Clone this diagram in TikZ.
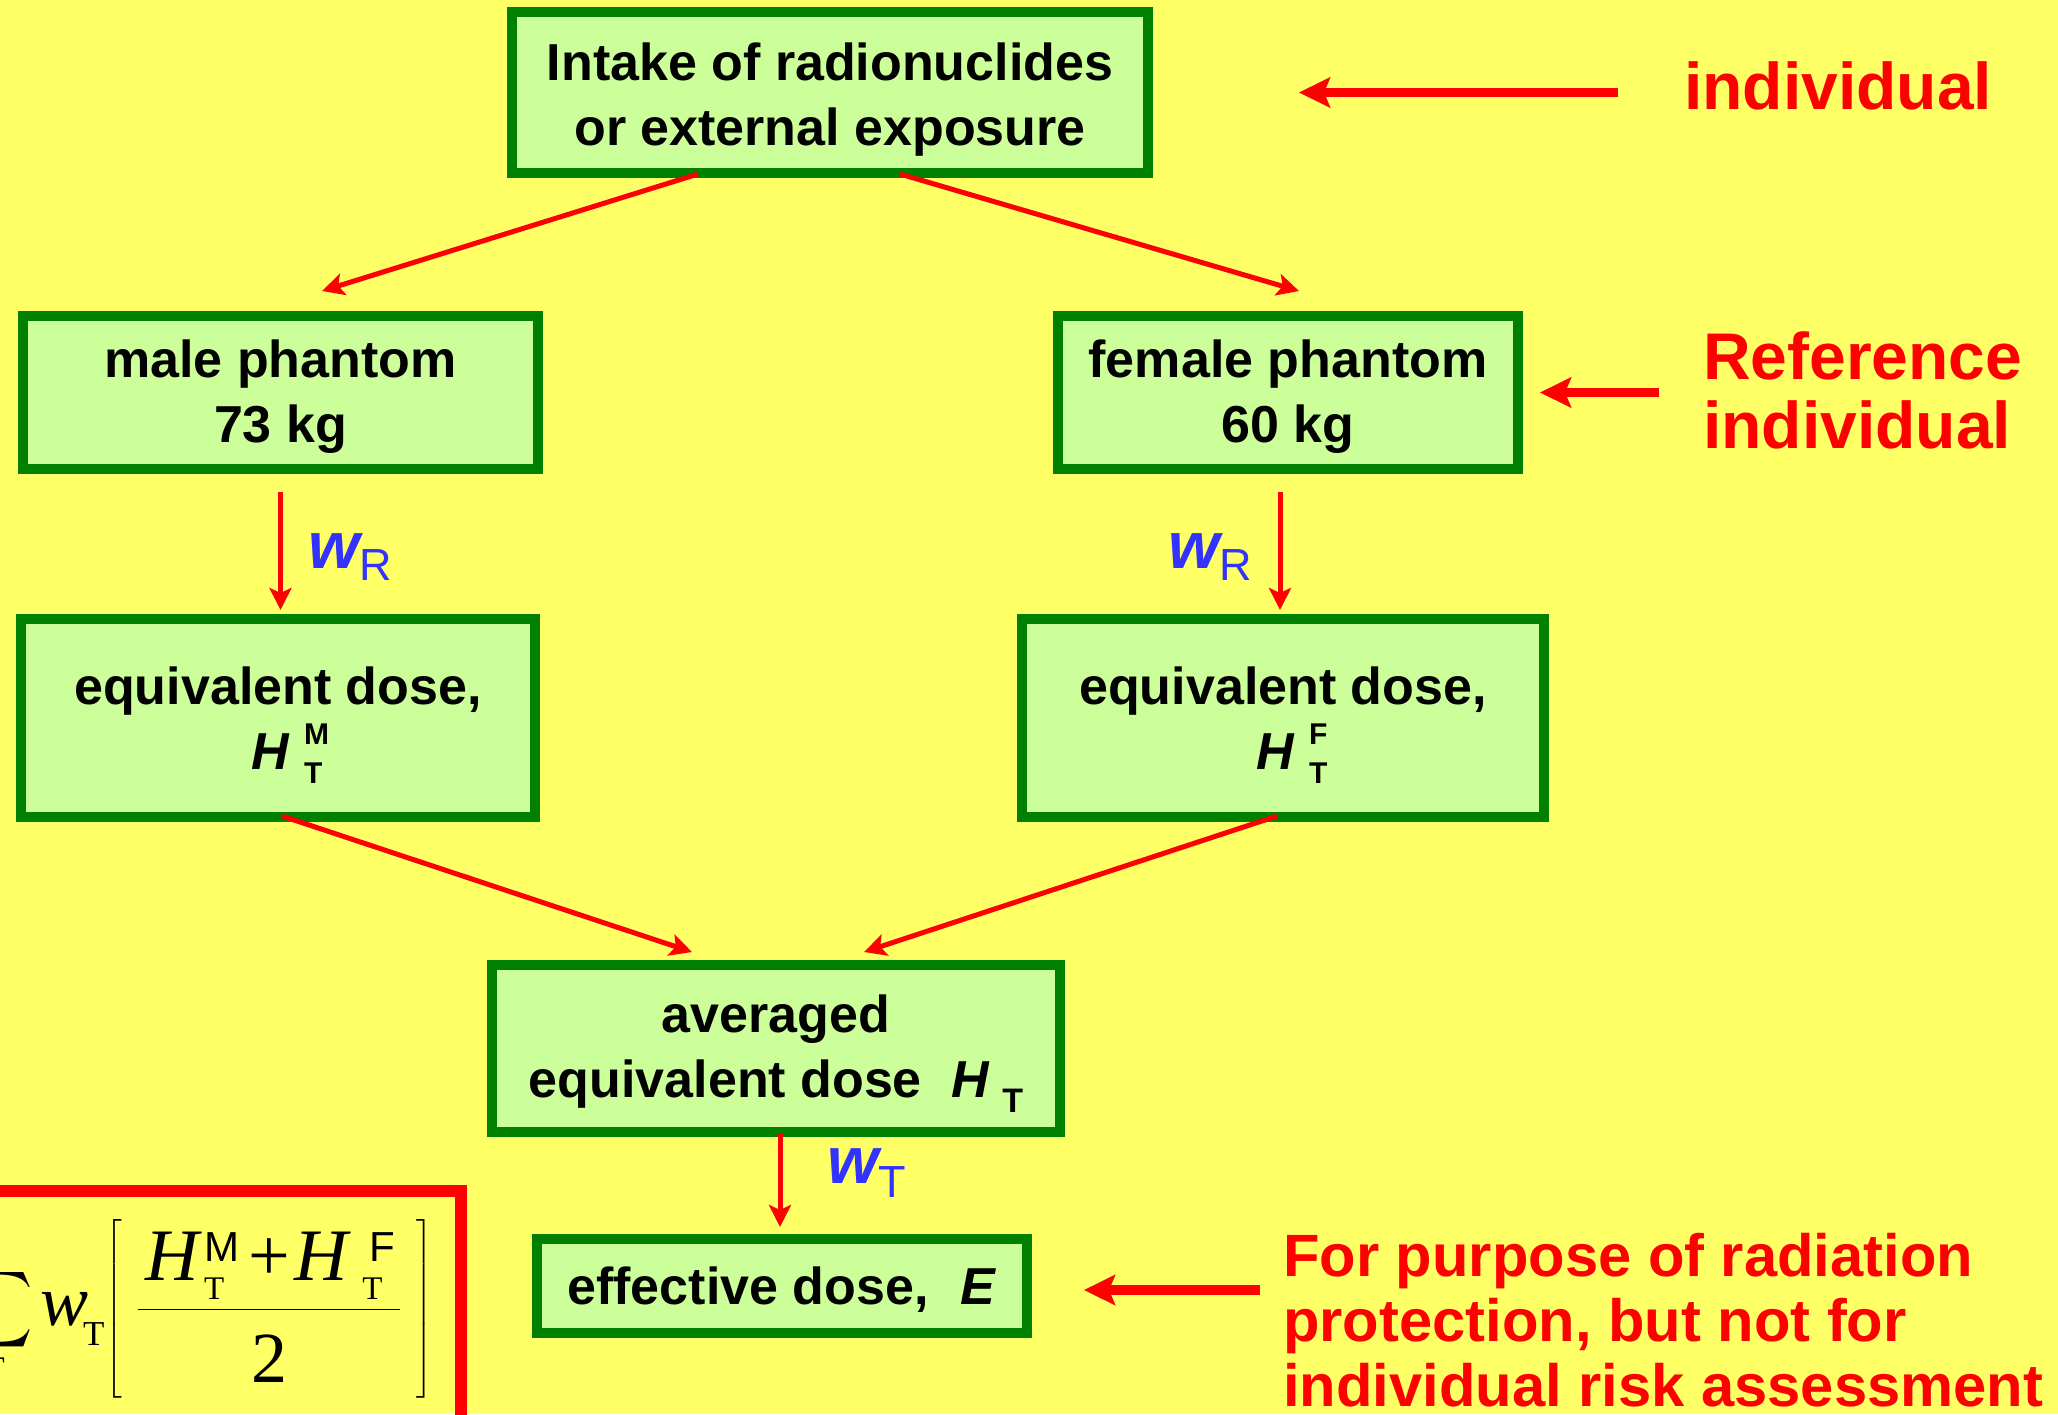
\RequirePackage{fix-cm}
\documentclass[tikz,border=0pt]{standalone}
\usepackage{amsmath}
\usepackage{graphicx}
\usepackage[no-math]{fontspec}
\setmainfont{Liberation Sans}
\newfontfamily\fserif{Liberation Serif}
\usetikzlibrary{arrows.meta,calc}
\definecolor{bgyellow}{RGB}{255,255,102}
\definecolor{boxfill}{RGB}{204,255,153}
\definecolor{boxgreen}{RGB}{0,128,0}
\definecolor{labelblue}{RGB}{51,51,255}
\definecolor{arrowred}{RGB}{255,0,0}
\newcommand{\subsupH}[1]{\textit{H}\hspace{14pt}\rlap{\raisebox{25pt}{\fontsize{30}{30}\selectfont #1}}\rlap{\raisebox{-14pt}{\fontsize{30}{30}\selectfont T}}\hspace{25pt}}
\newcommand{\lowertext}[1]{\rule{0pt}{#1}}
\newcommand{\bigH}{{\fontsize{74}{74}\selectfont\fserif\itshape H}}
\newcommand{\supM}[1]{{\fontsize{42}{42}\selectfont #1}}
\newcommand{\subT}{{\fontsize{33}{33}\selectfont\fserif T}}
\newcommand{\numer}{\mbox{\bigH\makebox[42pt][l]{\kern5pt\rlap{\raisebox{19pt}{\supM{M}}}\raisebox{-19pt}{\subT}}\kern7pt{\fontsize{74}{74}\selectfont\fserif +}\kern5pt\bigH\makebox[44pt][l]{\kern14pt\rlap{\raisebox{-19pt}{\subT}}\kern7pt\raisebox{19pt}{\supM{F}}}}}
\begin{document}
\begin{tikzpicture}[x=1pt,y=-1pt,
  box/.style={draw=boxgreen, fill=boxfill, line width=10pt, inner sep=0pt, align=center,
    font=\fontsize{52}{65}\selectfont\bfseries},
  thinarrow/.style={draw=arrowred, line width=5pt, -{Stealth[length=22pt,width=22pt,inset=5pt]}},
  sidearrow/.style={draw=arrowred, line width=9.5pt, -{Stealth[length=31pt,width=30pt,inset=6pt]}},
  redlabel/.style={text=arrowred, inner sep=0pt, align=left, font=\fontsize{66}{69}\selectfont\bfseries},
  notelabel/.style={text=arrowred, inner sep=0pt, align=left, font=\fontsize{59.7}{65}\selectfont\bfseries},
  wlabel/.style={text=labelblue, inner sep=0pt, font=\fontsize{66}{70}\selectfont\bfseries\itshape},
  mathnode/.style={inner sep=0pt},
]
\useasboundingbox (0,0) rectangle (2058,1414);
\fill[bgyellow] (0,0) rectangle (2058,1414);

% boxes
\node[box, minimum width=636pt, minimum height=161pt] (top) at (830,92.5) {\lowertext{51pt}Intake of radionuclides\\or external exposure};
\node[box, minimum width=515pt, minimum height=153pt] (male) at (280.5,392.5) {\lowertext{47pt}male phantom\\73 kg};
\node[box, minimum width=460pt, minimum height=153pt] (female) at (1288,392.5) {\lowertext{47pt}female phantom\\60 kg};
\node[box, minimum width=514pt, minimum height=198pt] (eqM) at (278,718) {\lowertext{52pt}equivalent dose,\\\subsupH{M}};
\node[box, minimum width=522pt, minimum height=198pt] (eqF) at (1283,718) {\lowertext{52pt}equivalent dose,\\\subsupH{F}};
\node[box, minimum width=568pt, minimum height=167pt] (avg) at (776,1048.5) {\lowertext{47pt}averaged\\equivalent dose\hspace{30pt}\textit{H}\hspace{12pt}\raisebox{-15pt}{\fontsize{34}{34}\selectfont T}};
\node[box, minimum width=490pt, minimum height=94pt] (eff) at (782,1286) {\lowertext{46pt}effective dose,\hspace{32pt}\textit{E}};

% red labels
\node[redlabel, anchor=base west] (indiv) at (1684,109) {individual};
\node[redlabel, anchor=west] (ref) at (1703,390) {Reference\\individual};
\node[notelabel, anchor=west] (purp) at (1283,1320) {For purpose of radiation\\protection, but not for\\individual risk assessment};

% blue weight labels
\node[wlabel, anchor=base west] (wRm) at (308,568) {w\raisebox{-12pt}{\fontsize{45}{45}\selectfont\mdseries\upshape R}};
\node[wlabel, anchor=base west] (wRf) at (1168,568) {w\raisebox{-12pt}{\fontsize{45}{45}\selectfont\mdseries\upshape R}};
\node[wlabel, anchor=base west] (wT) at (827,1183) {w\raisebox{-14pt}{\fontsize{45}{45}\selectfont\mdseries\upshape T}};

% connectors
\draw[thinarrow] ($(top.south)+(-132,-4)$) -- ($(male.north)+(41.5,-20)$);
\draw[thinarrow] ($(top.south)+(70,-4)$) -- ($(female.north)+(11,-20)$);
\draw[thinarrow] ($(male.south)+(0,18)$) -- ($(male.south |- eqM.north)+(0,-4)$);
\draw[thinarrow] ($(female.south)+(-8,18)$) -- ($(female.south |- eqF.north)+(-8,-4)$);
\draw[thinarrow] ($(eqM.south)+(4,-6)$) -- ($(avg.north)+(-84,-8)$);
\draw[thinarrow] ($(eqF.south)+(-6,-6)$) -- ($(avg.north)+(88,-8)$);
\draw[thinarrow] ($(avg.south)+(4,-4)$) -- ($(avg.south |- eff.north)+(4,-7)$);

\draw[sidearrow] ($(indiv.west |- top.east)+(-66,0)$) -- ($(top.east)+(146,0)$);
\draw[sidearrow] ($(ref.west |- female.east)+(-44,0)$) -- ($(female.east)+(17,0)$);
\draw[sidearrow] ($(purp.west |- eff.east)+(-23,4)$) -- ($(eff.east)+(52,4)$);

% formula box (partly off the page)
\draw[draw=arrowred, line width=12pt] (-50,1191) rectangle (461,1500);
\node[mathnode, anchor=north east] (sig) at (33,1267) {\resizebox*{!}{85pt}{$\displaystyle\sum$}};
\node[mathnode, anchor=north east] (sigT) at (5,1358) {\subT};
\node[mathnode, anchor=base west] (wsum) at (40,1325) {{\fontsize{72}{72}\selectfont\fserif\itshape w}\kern-5pt\raisebox{-20pt}{{\fontsize{35}{35}\selectfont\fserif T}}};
\node[mathnode, anchor=east, font=\fontsize{66}{80}\selectfont] (frac) at (433,1309) {$\displaystyle\left[\vrule height 104pt depth 72pt width 0pt\mkern4mu\frac{\kern8pt\numer\kern8pt}{\raisebox{-12pt}{\fontsize{72}{72}\selectfont\fserif 2}}\mkern4mu\right]$};
\end{tikzpicture}
\end{document}
